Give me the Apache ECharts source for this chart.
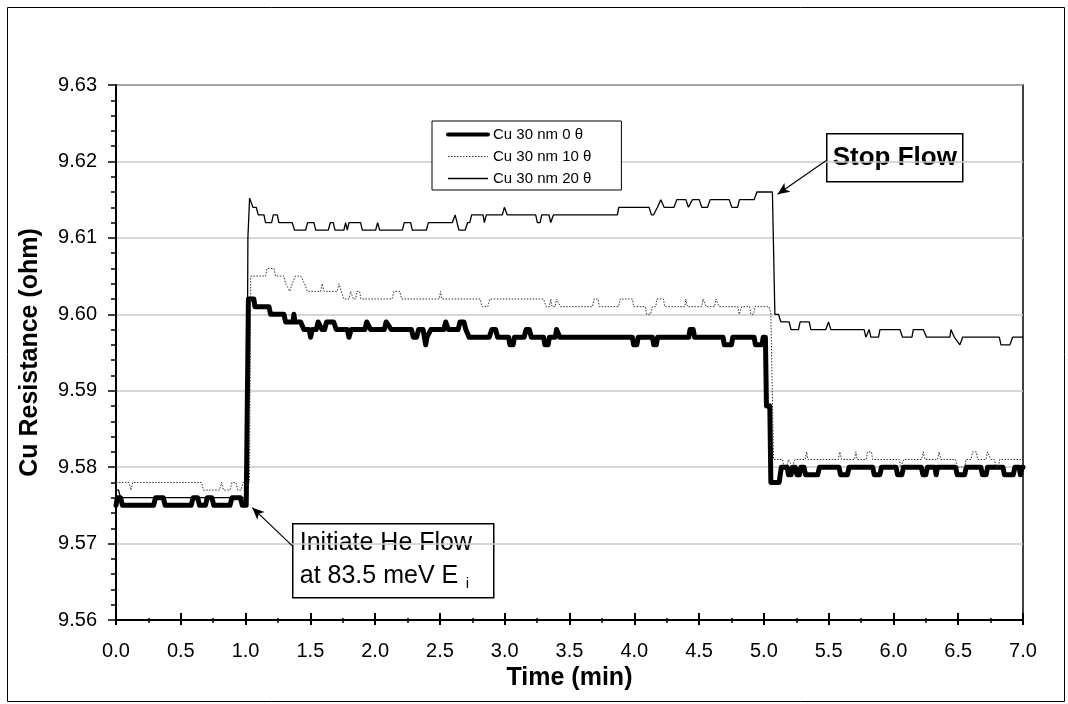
<!DOCTYPE html>
<html>
<head>
<meta charset="utf-8">
<script src="https://cdn.jsdelivr.net/npm/echarts@6/dist/echarts.min.js"></script>
<style>
html,body{margin:0;padding:0;background:#fff;}
#chart{width:1068px;height:704px;}
</style>
</head>
<body>
<div id="chart"></div>
<script>
// ---- data (vertices of each trace, time in min, resistance in ohm) ----
var seriesNames = ['Cu 30 nm 0 \u03b8', 'Cu 30 nm 10 \u03b8', 'Cu 30 nm 20 \u03b8'];

var time0 = [0,0.01,0.035,0.05,0.29,0.305,0.365,0.38,0.58,0.595,0.63,0.645,0.69,0.705,0.74,0.755,0.88,0.895,0.96,0.975,1.005,1.022,1.064,1.072,1.18,1.193,1.296,1.309,1.365,1.373,1.381,1.425,1.45,1.49,1.502,1.515,1.545,1.56,1.575,1.59,1.61,1.625,1.68,1.7,1.785,1.798,1.815,1.92,1.935,1.95,1.965,2.07,2.085,2.1,2.125,2.28,2.295,2.32,2.335,2.37,2.38,2.39,2.40,2.43,2.53,2.545,2.565,2.64,2.655,2.685,2.70,2.725,2.88,2.90,2.93,2.945,3.03,3.04,3.065,3.075,3.15,3.165,3.19,3.205,3.30,3.31,3.335,3.345,3.39,3.40,3.415,3.425,3.985,3.995,4.02,4.03,4.14,4.15,4.17,4.18,4.42,4.43,4.455,4.465,4.685,4.695,4.75,4.76,4.925,4.935,4.985,4.995,5.012,5.02,5.046,5.054,5.118,5.135,5.18,5.19,5.21,5.22,5.242,5.255,5.275,5.285,5.31,5.322,5.415,5.43,5.58,5.592,5.645,5.658,5.84,5.852,5.895,5.908,6.02,6.032,6.065,6.078,6.215,6.228,6.25,6.262,6.32,6.33,6.34,6.48,6.492,6.55,6.562,6.675,6.687,6.715,6.727,6.845,6.857,6.925,6.937,6.97,6.98,6.99,7.0];
var res0  = [9.575,9.576,9.576,9.575,9.575,9.576,9.576,9.575,9.575,9.576,9.576,9.575,9.575,9.576,9.576,9.575,9.575,9.576,9.576,9.575,9.575,9.602,9.602,9.601,9.601,9.600,9.600,9.599,9.599,9.600,9.599,9.599,9.598,9.598,9.597,9.598,9.598,9.599,9.599,9.598,9.598,9.599,9.599,9.598,9.598,9.597,9.598,9.598,9.599,9.599,9.598,9.598,9.599,9.599,9.598,9.598,9.597,9.597,9.598,9.598,9.597,9.596,9.597,9.598,9.598,9.599,9.598,9.598,9.599,9.599,9.598,9.597,9.597,9.598,9.598,9.597,9.597,9.596,9.596,9.597,9.597,9.598,9.598,9.597,9.597,9.596,9.596,9.597,9.597,9.598,9.598,9.597,9.597,9.596,9.596,9.597,9.597,9.596,9.596,9.597,9.597,9.598,9.598,9.597,9.597,9.596,9.596,9.597,9.597,9.596,9.596,9.597,9.597,9.588,9.588,9.578,9.578,9.580,9.580,9.579,9.579,9.580,9.580,9.579,9.579,9.580,9.580,9.579,9.579,9.580,9.580,9.579,9.579,9.580,9.580,9.579,9.579,9.580,9.580,9.579,9.579,9.580,9.580,9.579,9.579,9.580,9.580,9.579,9.580,9.580,9.579,9.579,9.580,9.580,9.579,9.579,9.580,9.580,9.579,9.579,9.580,9.580,9.579,9.580,9.580];

var time10 = [0,0.10,0.115,0.13,0.66,0.675,0.80,0.815,0.83,0.88,0.895,0.925,0.94,0.965,0.98,1.03,1.04,1.155,1.165,1.219,1.232,1.296,1.309,1.342,1.36,1.386,1.425,1.456,1.476,1.579,1.592,1.605,1.708,1.721,1.739,1.759,1.798,1.811,1.832,1.85,1.86,1.88,1.89,2.13,2.145,2.19,2.205,2.495,2.505,2.515,2.81,2.825,2.87,2.885,3.30,3.32,3.345,3.355,3.365,3.39,3.40,3.415,3.43,3.677,3.69,3.72,3.73,3.88,3.89,3.985,3.995,4.085,4.095,4.125,4.14,4.165,4.175,4.225,4.235,4.39,4.398,4.41,4.52,4.53,4.545,4.555,4.62,4.63,4.645,4.655,4.80,4.81,4.82,4.83,4.89,4.90,4.92,4.93,5.04,5.054,5.067,5.075,5.144,5.155,5.175,5.19,5.22,5.23,5.24,5.32,5.33,5.34,5.574,5.587,5.60,5.70,5.71,5.72,5.79,5.80,5.83,5.84,6.045,6.055,6.07,6.08,6.217,6.23,6.243,6.34,6.353,6.366,6.48,6.49,6.55,6.56,6.60,6.61,6.64,6.65,6.714,6.725,6.753,6.78,6.79,6.81,6.82,7.0];
var res10  = [9.578,9.578,9.577,9.578,9.578,9.577,9.577,9.578,9.577,9.577,9.578,9.578,9.577,9.577,9.578,9.578,9.605,9.605,9.606,9.606,9.605,9.605,9.604,9.603,9.604,9.605,9.605,9.604,9.603,9.603,9.604,9.603,9.603,9.604,9.603,9.602,9.602,9.603,9.602,9.602,9.603,9.603,9.602,9.602,9.603,9.603,9.602,9.602,9.603,9.602,9.602,9.601,9.601,9.602,9.602,9.601,9.601,9.602,9.601,9.601,9.602,9.602,9.601,9.601,9.602,9.602,9.601,9.601,9.602,9.602,9.601,9.601,9.600,9.600,9.601,9.601,9.602,9.602,9.601,9.601,9.602,9.601,9.601,9.602,9.602,9.601,9.601,9.602,9.602,9.601,9.601,9.600,9.600,9.601,9.601,9.600,9.600,9.601,9.601,9.600,9.600,9.581,9.581,9.580,9.580,9.581,9.580,9.580,9.581,9.581,9.582,9.581,9.581,9.582,9.581,9.581,9.582,9.581,9.581,9.582,9.582,9.581,9.581,9.580,9.580,9.581,9.581,9.582,9.581,9.581,9.582,9.581,9.581,9.580,9.580,9.581,9.581,9.582,9.582,9.581,9.581,9.582,9.581,9.581,9.580,9.580,9.581,9.581];

var time20 = [0,0.02,0.035,1.008,1.018,1.031,1.057,1.082,1.098,1.142,1.154,1.201,1.214,1.245,1.257,1.360,1.378,1.463,1.479,1.528,1.541,1.638,1.654,1.677,1.690,1.759,1.772,1.785,1.798,1.888,1.901,2.004,2.019,2.035,2.210,2.225,2.274,2.287,2.395,2.411,2.596,2.617,2.647,2.694,2.714,2.730,2.745,2.833,2.843,2.858,2.982,2.997,3.008,3.020,3.239,3.252,3.273,3.286,3.342,3.355,3.363,3.376,3.870,3.880,4.114,4.132,4.148,4.179,4.205,4.230,4.307,4.328,4.398,4.418,4.431,4.449,4.501,4.521,4.565,4.586,4.732,4.753,4.797,4.812,4.925,4.946,5.066,5.085,5.113,5.131,5.195,5.21,5.267,5.280,5.350,5.363,5.478,5.499,5.517,5.774,5.787,5.813,5.826,5.885,5.896,6.050,6.071,6.143,6.153,6.230,6.256,6.436,6.444,6.470,6.513,6.534,6.817,6.830,6.899,6.920,7.0];
var res20  = [9.577,9.577,9.576,9.576,9.610,9.6152,9.614,9.614,9.613,9.613,9.612,9.612,9.613,9.613,9.612,9.612,9.611,9.611,9.612,9.612,9.611,9.611,9.612,9.612,9.611,9.611,9.612,9.611,9.612,9.612,9.611,9.611,9.612,9.611,9.611,9.612,9.612,9.611,9.611,9.612,9.612,9.613,9.611,9.611,9.612,9.612,9.613,9.613,9.612,9.613,9.613,9.614,9.614,9.613,9.613,9.612,9.612,9.613,9.613,9.612,9.612,9.613,9.613,9.614,9.614,9.613,9.613,9.614,9.615,9.614,9.614,9.615,9.615,9.614,9.614,9.615,9.615,9.614,9.614,9.615,9.615,9.614,9.614,9.615,9.615,9.616,9.616,9.600,9.600,9.599,9.599,9.598,9.598,9.599,9.599,9.598,9.598,9.599,9.598,9.598,9.597,9.598,9.597,9.597,9.598,9.598,9.597,9.597,9.598,9.598,9.597,9.597,9.598,9.597,9.596,9.597,9.597,9.596,9.596,9.597,9.597];

var xTicks = {min: 0, max: 7, step: 0.5};
var yTicks = {min: 9.56, max: 9.63, step: 0.01};

function zip(t, v) { return t.map(function (x, i) { return [x, v[i]]; }); }

var FONT = '"Liberation Sans", Arial, sans-serif';
var chart = echarts.init(document.getElementById('chart'), null, {renderer: 'canvas'});

var xCommon = {type: 'value', min: xTicks.min, max: xTicks.max, interval: xTicks.step};
var styles = [
  {color: '#000', width: 5, type: 'solid'},
  {color: '#333', width: 1, type: [1.5, 1.5]},
  {color: '#000', width: 1.3, type: 'solid'}
];

var option = {
  backgroundColor: '#fff',
  animation: false,
  grid: {left: 116, right: 45, top: 85, bottom: 84, show: true, borderColor: '#000', borderWidth: 1.5, backgroundColor: 'transparent'},
  legend: {
    orient: 'vertical', left: 432, top: 121,
    backgroundColor: '#fff', borderColor: '#000', borderWidth: 1,
    padding: [6, 30, 4, 14], itemWidth: 40, itemHeight: 14, itemGap: 7,
    textStyle: {fontFamily: FONT, fontSize: 15, color: '#000'},
    data: seriesNames.map(function (n, i) {
      return {name: n, itemStyle: {opacity: 0}, lineStyle: {color: styles[i].color, width: Math.min(styles[i].width, 4), type: styles[i].type}};
    })
  },
  xAxis: [
    Object.assign({}, xCommon, {
      position: 'bottom',
      axisLine: {show: true, onZero: false, lineStyle: {color: '#000', width: 2}},
      axisTick: {show: true, inside: false, length: 5, lineStyle: {color: '#000', width: 2}},
      minorTick: {show: true, splitNumber: 2, length: 3, lineStyle: {color: '#000', width: 1.5}},
      axisLabel: {color: '#000', fontFamily: FONT, fontSize: 20, margin: 21, formatter: function (v) { return v.toFixed(1); }},
      splitLine: {show: false},
      name: 'Time (min)', nameLocation: 'middle', nameGap: 42,
      nameTextStyle: {fontFamily: FONT, fontSize: 25, fontWeight: 'bold', color: '#000'}
    }),
    Object.assign({}, xCommon, {
      position: 'bottom',
      axisLine: {show: false},
      axisTick: {show: true, inside: true, length: 7, lineStyle: {color: '#000', width: 2}},
      minorTick: {show: true, splitNumber: 2, length: 2, lineStyle: {color: '#000', width: 1.5}},
      axisLabel: {show: false},
      splitLine: {show: false}
    })
  ],
  yAxis: {
    type: 'value', min: yTicks.min, max: yTicks.max, interval: yTicks.step,
    axisLine: {show: true, onZero: false, lineStyle: {color: '#000', width: 2}},
    axisTick: {show: true, inside: false, length: 8, lineStyle: {color: '#000', width: 1.5}},
    minorTick: {show: true, splitNumber: 5, length: 5, lineStyle: {color: '#000', width: 1.5}},
    axisLabel: {color: '#000', fontFamily: FONT, fontSize: 20, margin: 19, formatter: function (v) { return v.toFixed(2); }},
    splitLine: {show: true, lineStyle: {color: '#c8c8c8', width: 1.5}},
    name: 'Cu Resistance (ohm)', nameLocation: 'middle', nameGap: 73, nameRotate: 90,
    nameTextStyle: {fontFamily: FONT, fontSize: 25, fontWeight: 'bold', color: '#000'}
  },
  series: [
    {name: seriesNames[0], type: 'line', xAxisIndex: 0, data: zip(time0, res0), symbol: 'none', smooth: false,
     lineStyle: {color: styles[0].color, width: styles[0].width, join: 'round', cap: 'round'}, itemStyle: {color: '#000'}, z: 2,
     markLine: {
       silent: true, symbol: ['none', 'arrow'], symbolSize: [8, 12],
       lineStyle: {color: '#000', width: 1.2, type: 'solid'}, label: {show: false},
       data: [
         [{coord: [1.361, 9.5697]}, {coord: [1.052, 9.5747]}],
         [{coord: [5.479, 9.6201]}, {coord: [5.106, 9.6157]}]
       ]
     }},
    {name: seriesNames[1], type: 'line', xAxisIndex: 0, data: zip(time10, res10), symbol: 'none',
     lineStyle: {color: styles[1].color, width: styles[1].width, type: styles[1].type}, itemStyle: {color: '#333'}, z: 3},
    {name: seriesNames[2], type: 'line', xAxisIndex: 0, data: zip(time20, res20), symbol: 'none',
     lineStyle: {color: styles[2].color, width: styles[2].width}, itemStyle: {color: '#000'}, z: 4}
  ],
  graphic: [
    {type: 'rect', left: 5, top: 5, z: -10, shape: {width: 1057, height: 694}, style: {fill: 'none', stroke: '#000', lineWidth: 1}},
    {type: 'group', left: 826, top: 133, z: 100, children: [
      {type: 'rect', shape: {x: 0, y: 0, width: 136, height: 48}, style: {fill: '#fff', stroke: '#000', lineWidth: 1.5}},
      {type: 'text', x: 68, y: 24, style: {text: 'Stop Flow', fill: '#000', font: 'bold 26px ' + FONT, textAlign: 'center', textVerticalAlign: 'middle'}}
    ]},
    {type: 'group', left: 292, top: 523, z: 100, children: [
      {type: 'rect', shape: {x: 0, y: 0, width: 201, height: 74}, style: {fill: '#fff', stroke: '#000', lineWidth: 1.5}},
      {type: 'text', x: 7, y: 19.5, style: {text: 'Initiate He Flow', fill: '#000', font: '25px ' + FONT, textAlign: 'left', textVerticalAlign: 'middle'}},
      {type: 'text', x: 7, y: 52, style: {text: 'at 83.5 meV E', fill: '#000', font: '25px ' + FONT, textAlign: 'left', textVerticalAlign: 'middle'}},
      {type: 'text', x: 173, y: 60, style: {text: 'i', fill: '#000', font: '15px ' + FONT, textAlign: 'left', textVerticalAlign: 'middle'}}
    ]}
  ]
};
chart.setOption(option);
</script>
</body>
</html>
